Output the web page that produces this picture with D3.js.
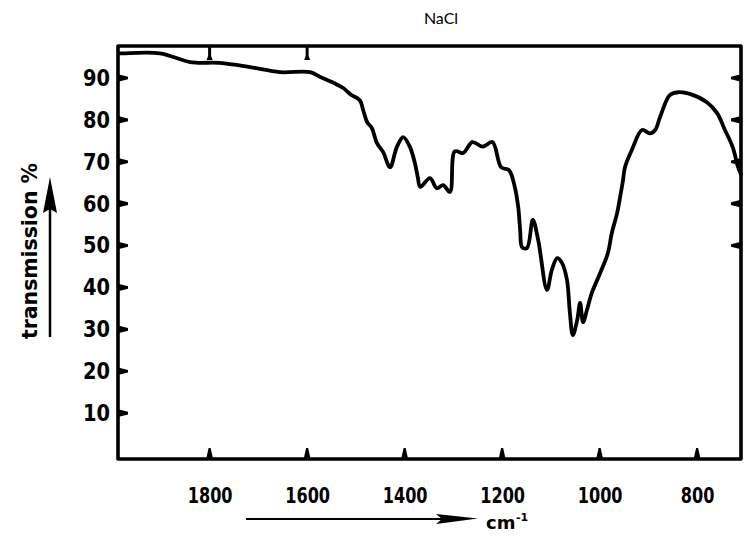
<!DOCTYPE html>
<html>
<head>
<meta charset="utf-8">
<script src="https://cdn.jsdelivr.net/npm/d3@7"></script>
<style>
  html, body { margin: 0; padding: 0; background: #fff; }
  svg { display: block; }
  .lbl { font-family: "DejaVu Sans", sans-serif; font-weight: bold; fill: #000; }
</style>
</head>
<body>
<svg id="chart" width="744" height="539"></svg>
<script>
// ---- data ----
const wavenumbers = [1985, 1978, 1902, 1840, 1779, 1717, 1656, 1594, 1574, 1545, 1526, 1510, 1492, 1485, 1477, 1467, 1457, 1444, 1430, 1416, 1403, 1389, 1379, 1373, 1368, 1348, 1334, 1321, 1307, 1297, 1280, 1261, 1240, 1220, 1202, 1186, 1174, 1167, 1163, 1159, 1149, 1137, 1126, 1108, 1098, 1087, 1077, 1067, 1061, 1055, 1046, 1040, 1034, 1026, 1016, 999, 983, 975, 964, 958, 952, 948, 934, 913, 897, 886, 876, 856, 839, 815, 780, 759, 743, 727, 716, 710];
const transmission = [95.9, 95.9, 95.9, 93.8, 93.6, 92.6, 91.4, 91.4, 90.3, 88.8, 87.6, 86.0, 84.7, 82.3, 79.5, 78.0, 74.5, 72.3, 68.7, 73.5, 75.9, 73.5, 69.7, 66.3, 64.0, 66.1, 63.7, 64.4, 62.8, 72.5, 72.1, 74.7, 73.6, 74.7, 68.7, 68.0, 64.0, 59.2, 53.7, 49.6, 49.4, 56.1, 51.3, 39.4, 44.2, 47.0, 45.8, 41.8, 33.9, 28.6, 32.2, 36.3, 31.7, 34.6, 38.7, 43.4, 48.2, 53.0, 57.8, 61.6, 65.6, 68.7, 72.8, 77.6, 76.8, 77.6, 80.7, 85.9, 86.6, 86.2, 84.2, 81.6, 77.6, 73.5, 68.7, 67.0];
const xTicks = [1800, 1600, 1400, 1200, 1000, 800];
const yTicks = [10, 20, 30, 40, 50, 60, 70, 80, 90];
const rightTicks = [50, 60, 70, 80, 90];
const topTicks = [1800, 1600];
const xDomain = [1990, 710];
const yDomain = [0, 90];
const title = "NaCl";
const yLabel = "transmission %";
const xUnit = "cm";
const xUnitSup = "-1";

// ---- layout ----
const svg = d3.select("#chart");
const fL = 118, fR = 741, fT = 46, fB = 459;
const x = d3.scaleLinear().domain(xDomain).range([117, 741]);
const y = d3.scaleLinear().domain(yDomain).range([455, 78]);

// title
svg.append("text")
  .attr("x", 441).attr("y", 24)
  .attr("text-anchor", "middle")
  .style("font-family", "Lato, 'Open Sans', sans-serif")
  .style("font-size", "16px")
  .text(title);

// frame
svg.append("path")
  .attr("d", `M${fL},${fT}L${fR},${fT}L${fR},${fB}L${fL},${fB}Z`)
  .attr("fill", "none").attr("stroke", "#000").attr("stroke-width", 3.6)
  .attr("stroke-linejoin", "round");

function styleAxis(g) {
  g.select(".domain").remove();
  g.selectAll(".tick line").remove();
  g.selectAll(".tick text").attr("class", "lbl").attr("fill", "#000");
}

// tick labels through d3 axes
svg.append("g").attr("transform", `translate(${fL},0)`)
  .call(d3.axisLeft(y).tickValues(yTicks).tickSize(0).tickPadding(8))
  .call(styleAxis)
  .selectAll("text")
  .style("font-size", "23px")
  .attr("textLength", d => String(d).length * 13.5)
  .attr("lengthAdjust", "spacingAndGlyphs");

svg.append("g").attr("transform", `translate(0,${fB})`)
  .call(d3.axisBottom(x).tickValues(xTicks).tickSize(0).tickPadding(29).tickFormat(d3.format("d")))
  .call(styleAxis)
  .selectAll("text")
  .style("font-size", "21px")
  .attr("textLength", d => String(d).length * 11.2)
  .attr("lengthAdjust", "spacingAndGlyphs");

// wedge-shaped hand-drawn tick marks
const tickG = svg.append("g").attr("fill", "#000");
tickG.selectAll(".tl").data(yTicks).join("path").attr("class", "tl")
  .attr("d", d => { const p = y(d); return `M${fL},${p - 3.8}L${fL + 10},${p - 1.3}L${fL + 10},${p + 1.3}L${fL},${p + 3.8}Z`; });
tickG.selectAll(".tr").data(rightTicks).join("path").attr("class", "tr")
  .attr("d", d => { const p = y(d); return `M${fR},${p - 3.8}L${fR - 10},${p - 1.3}L${fR - 10},${p + 1.3}L${fR},${p + 3.8}Z`; });
tickG.selectAll(".tb").data(xTicks).join("path").attr("class", "tb")
  .attr("d", d => { const p = x(d); return `M${p - 3.5},${fB}L${p - 1},${fB - 11}L${p + 1},${fB - 11}L${p + 3.5},${fB}Z`; });
tickG.selectAll(".tt").data(topTicks).join("path").attr("class", "tt")
  .attr("d", d => { const p = x(d); return `M${p - 1.5},${fT}L${p - 1.5},${fT + 10}L${p - 3},${fT + 14}L${p + 3},${fT + 14}L${p + 1.5},${fT + 10}L${p + 1.5},${fT}Z`; });

// spectrum
const pts = wavenumbers.map((w, i) => [w, transmission[i]]);
const line = d3.line()
  .x(d => x(d[0])).y(d => y(d[1]))
  .curve(d3.curveCatmullRom.alpha(0.5));
svg.append("path")
  .attr("d", line(pts))
  .attr("fill", "none").attr("stroke", "#000")
  .attr("stroke-width", 3.8).attr("stroke-linejoin", "round").attr("stroke-linecap", "round");

// y label + arrow
svg.append("text").attr("class", "lbl")
  .attr("transform", "translate(37,251) rotate(-90)")
  .attr("text-anchor", "middle")
  .style("font-size", "22px")
  .attr("textLength", 176)
  .attr("lengthAdjust", "spacingAndGlyphs")
  .text(yLabel);
svg.append("line").attr("x1", 50).attr("x2", 50).attr("y1", 337).attr("y2", 205)
  .attr("stroke", "#000").attr("stroke-width", 2.5);
svg.append("path").attr("d", "M50,177L57,213L50,209L43,213Z").attr("fill", "#000");

// x unit arrow
svg.append("line").attr("x1", 246).attr("x2", 450).attr("y1", 519).attr("y2", 519)
  .attr("stroke", "#000").attr("stroke-width", 2.2);
svg.append("path").attr("d", "M436,514L478,518.5L436,524L442,519Z").attr("fill", "#000");
svg.append("text").attr("class", "lbl").attr("x", 486).attr("y", 529)
  .style("font-size", "18px").text(xUnit);
svg.append("text").attr("class", "lbl").attr("x", 516).attr("y", 521)
  .style("font-size", "11px").text(xUnitSup);
</script>
</body>
</html>
